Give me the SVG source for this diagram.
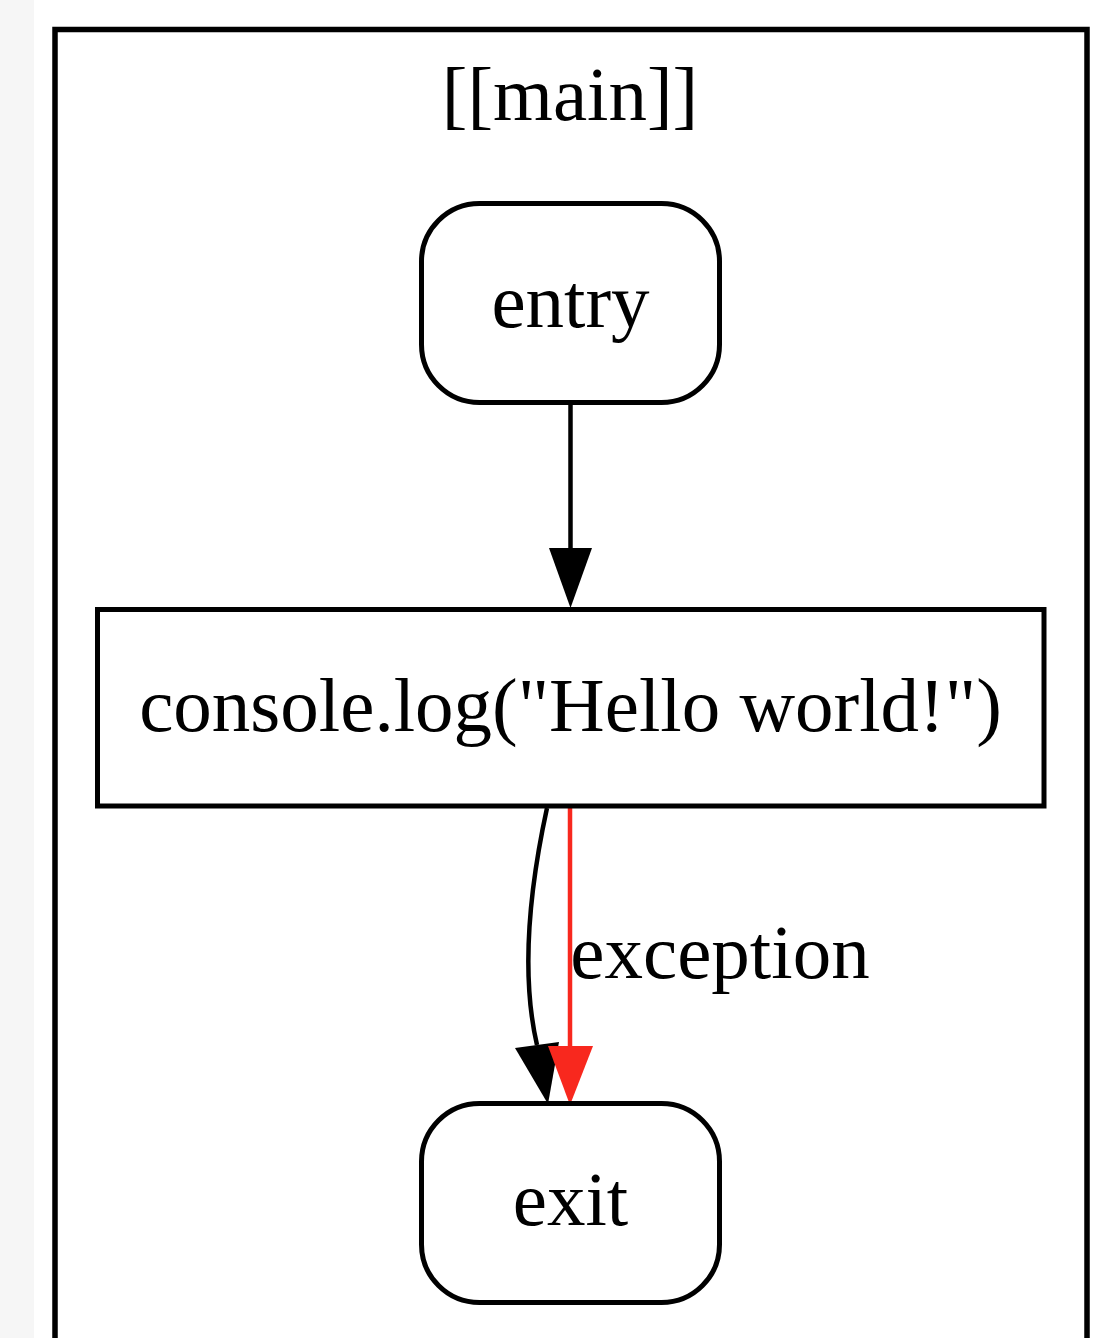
<svg xmlns="http://www.w3.org/2000/svg" width="1103" height="1338" viewBox="0 0 1103 1338">
  <style>
    .lbl { font-family: "Liberation Serif", "Times New Roman", serif; font-size: 77px; fill: #000; text-anchor: middle; }
    .node { fill: #fff; stroke: #000; stroke-width: 5; }
    .edge { fill: none; stroke-width: 4.5; }
    .black { stroke: #000; }
    .red { stroke: #f8281e; }
  </style>
  <!-- page background with grey margin strip -->
  <rect x="0" y="0" width="1103" height="1338" fill="#fff"/>
  <rect x="0" y="0" width="34" height="1338" fill="#f6f6f6"/>

  <!-- cluster [[main]] -->
  <g id="cluster_main">
    <rect x="55" y="29.5" width="1032" height="1400" fill="none" stroke="#000" stroke-width="5.5"/>
    <text class="lbl" x="570" y="120">[[main]]</text>
  </g>

  <!-- connectors -->
  <g id="edges">
    <g id="edge_entry_console">
      <path class="edge black" d="M570.5,403 L570.5,550"/>
      <polygon points="549,548 592,548 570.5,608" fill="#000"/>
    </g>
    <g id="edge_console_exit">
      <path class="edge black" d="M547,808 C527,900 522,980 537,1045"/>
      <polygon points="515,1048 559,1042 548,1104" fill="#000"/>
    </g>
    <g id="edge_console_exit_exception">
      <path class="edge red" d="M570,808 L570,1047"/>
      <polygon points="548,1046 593,1046 570,1105" fill="#f8281e"/>
      <text class="lbl" x="720" y="978">exception</text>
    </g>
  </g>

  <!-- nodes -->
  <g id="node_entry">
    <rect class="node" x="421.5" y="203.5" width="298" height="199" rx="58" ry="58"/>
    <text class="lbl" x="570.5" y="327">entry</text>
  </g>
  <g id="node_console">
    <rect class="node" x="97.5" y="609.5" width="946.5" height="196.5"/>
    <text class="lbl" x="570.5" y="731">console.log("Hello world!")</text>
  </g>
  <g id="node_exit">
    <rect class="node" x="421.5" y="1103.5" width="298" height="199" rx="58" ry="58"/>
    <text class="lbl" x="570.5" y="1225">exit</text>
  </g>
</svg>
